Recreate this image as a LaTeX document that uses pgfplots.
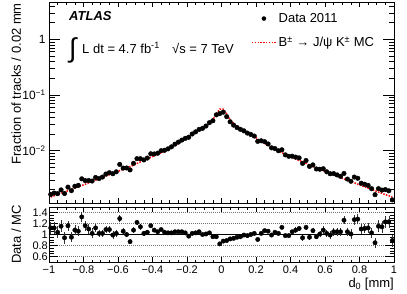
\documentclass[border=0pt]{standalone}
\usepackage{fontspec}
\setmainfont{Liberation Sans}
\usepackage{pgfplots}
\pgfplotsset{compat=1.18}
\usepackage{pgfplotstable}

\pgfplotstableread{
x mc data r re
-0.99 0.00147 0.001646 1.12 0.11
-0.97 0.00155 0.001736 1.12 0.11
-0.95 0.00163 0.001695 1.04 0.11
-0.93 0.00172 0.001978 1.15 0.11
-0.91 0.00181 0.001701 0.94 0.11
-0.89 0.00191 0.002216 1.16 0.09
-0.87 0.00202 0.001919 0.95 0.09
-0.85 0.00213 0.002300 1.08 0.09
-0.83 0.00225 0.002385 1.06 0.09
-0.81 0.00237 0.003128 1.32 0.09
-0.79 0.0025 0.0029 1.16 0.09
-0.77 0.00265 0.002915 1.10 0.09
-0.75 0.0028 0.002856 1.02 0.09
-0.73 0.00295 0.003304 1.12 0.07
-0.71 0.0031 0.003162 1.02 0.07
-0.69 0.0033 0.003366 1.02 0.07
-0.67 0.0035 0.003815 1.09 0.07
-0.65 0.0037 0.004033 1.09 0.07
-0.63 0.0039 0.003861 0.99 0.07
-0.61 0.0041 0.004182 1.02 0.07
-0.59 0.0044 0.005676 1.29 0.07
-0.57 0.0046 0.004876 1.06 0.05
-0.55 0.0049 0.0049 1.00 0.05
-0.53 0.0052 0.004524 0.87 0.05
-0.51 0.0055 0.00594 1.08 0.05
-0.49 0.0059 0.007198 1.22 0.05
-0.47 0.0063 0.007182 1.14 0.05
-0.45 0.0067 0.006834 1.02 0.05
-0.43 0.0071 0.007384 1.04 0.05
-0.41 0.0076 0.008816 1.16 0.03
-0.39 0.0081 0.008748 1.08 0.03
-0.37 0.0086 0.00903 1.05 0.03
-0.35 0.0092 0.010028 1.09 0.03
-0.33 0.0098 0.010192 1.04 0.03
-0.31 0.0105 0.010815 1.03 0.03
-0.29 0.0114 0.011742 1.03 0.03
-0.27 0.0125 0.013125 1.05 0.03
-0.25 0.0136 0.01428 1.05 0.02
-0.23 0.0148 0.01554 1.05 0.02
-0.21 0.0162 0.016686 1.03 0.02
-0.19 0.0180 0.01746 0.97 0.02
-0.17 0.0196 0.019992 1.02 0.02
-0.15 0.0212 0.021836 1.03 0.02
-0.13 0.0230 0.02415 1.05 0.02
-0.11 0.0252 0.0252 1.00 0.015
-0.09 0.0275 0.027775 1.01 0.015
-0.07 0.031 0.03193 1.03 0.015
-0.05 0.036 0.03456 0.96 0.015
-0.03 0.046 0.04416 0.96 0.015
-0.01 0.056 0.04648 0.83 0.015
0.01 0.056 0.04928 0.88 0.015
0.03 0.046 0.04094 0.89 0.015
0.05 0.036 0.03312 0.92 0.015
0.07 0.031 0.02883 0.93 0.015
0.09 0.0275 0.026125 0.95 0.015
0.11 0.0252 0.024192 0.96 0.015
0.13 0.0230 0.02277 0.99 0.02
0.15 0.0212 0.020776 0.98 0.02
0.17 0.0196 0.0196 1.00 0.02
0.19 0.0180 0.01836 1.02 0.02
0.21 0.0162 0.014742 0.91 0.02
0.23 0.0148 0.015096 1.02 0.02
0.25 0.0136 0.014552 1.07 0.02
0.27 0.0125 0.01325 1.06 0.03
0.29 0.0114 0.011286 0.99 0.03
0.31 0.0105 0.01092 1.04 0.03
0.33 0.0098 0.009996 1.02 0.03
0.35 0.0092 0.010396 1.13 0.03
0.37 0.0086 0.008428 0.98 0.03
0.39 0.0081 0.007938 0.98 0.03
0.41 0.0076 0.00798 1.05 0.03
0.43 0.0071 0.007668 1.08 0.05
0.45 0.0067 0.007437 1.11 0.05
0.47 0.0063 0.005922 0.94 0.05
0.49 0.0059 0.006667 1.13 0.05
0.51 0.0055 0.005225 0.95 0.05
0.53 0.0052 0.005564 1.07 0.05
0.55 0.0049 0.004704 0.96 0.05
0.57 0.0046 0.004646 1.01 0.05
0.59 0.0044 0.004752 1.08 0.07
0.61 0.0041 0.004182 1.02 0.07
0.63 0.0039 0.003861 0.99 0.07
0.65 0.0037 0.003885 1.05 0.07
0.67 0.0035 0.003675 1.05 0.07
0.69 0.0033 0.003465 1.05 0.07
0.71 0.0031 0.003906 1.26 0.07
0.73 0.00295 0.003098 1.05 0.07
0.75 0.0028 0.002828 1.01 0.09
0.77 0.00265 0.003366 1.27 0.09
0.79 0.0025 0.0032 1.28 0.09
0.81 0.00237 0.002607 1.10 0.09
0.83 0.00225 0.002498 1.11 0.09
0.85 0.00213 0.002386 1.12 0.09
0.87 0.00202 0.002081 1.03 0.09
0.89 0.00191 0.001624 0.85 0.09
0.91 0.00181 0.002082 1.15 0.11
0.93 0.00172 0.001961 1.14 0.11
0.95 0.00163 0.002005 1.23 0.11
0.97 0.00155 0.001907 1.23 0.11
0.99 0.00147 0.001308 0.89 0.11
}\tbl

\pgfplotsset{
  rootstyle/.style={
    scale only axis, width=345pt, xmin=-1, xmax=1,
    tick align=inside, tick pos=both,
    axis line style={line width=0.8pt},
    tick style={black, line width=0.6pt},
    /pgf/number format/assume math mode=true,
  }
}

\begin{document}
\begin{tikzpicture}[x=1pt,y=1pt]
\useasboundingbox (0,0) rectangle (407,293);
\begin{axis}[rootstyle,
  at={(49pt,90pt)}, anchor=south west, height=201pt,
  ymode=log, ymin=1.15e-3, ymax=4.7,
  xtick={-1,-0.8,-0.6,-0.4,-0.2,0,0.2,0.4,0.6,0.8,1}, xticklabels={},
  minor x tick num=3,
  ytick={0.01,0.1,1},
  yticklabels={10\textsuperscript{−2},10\textsuperscript{−1},1},
  minor ytick={0.002,0.003,0.004,0.005,0.006,0.007,0.008,0.009,0.02,0.03,0.04,0.05,0.06,0.07,0.08,0.09,0.2,0.3,0.4,0.5,0.6,0.7,0.8,0.9,2,3,4},
  xtick style={/pgfplots/major tick length=5.5pt,/pgfplots/minor tick length=3pt},
  ytick style={/pgfplots/major tick length=11pt,/pgfplots/minor tick length=5.5pt},
  yticklabel style={font=\fontsize{12}{14}\selectfont},
  ylabel={Fraction of tracks / 0.02 mm},
  ylabel style={font=\fontsize{13}{15}\selectfont, at={(axis description cs:-0.0812,0.995)}, anchor=base east, inner sep=0pt},
  legend style={at={(axis description cs:0.5855,0.955)}, anchor=north west, draw=none, fill=none,
    font=\fontsize{13}{15}\selectfont, row sep=9pt, inner sep=0pt},
  legend cell align=left,
]
\addlegendimage{legend image code/.code={\path[draw=none, fill=black] (12pt,0pt) circle (2.3pt); \path[draw=none, fill=none] (0pt,-1pt) rectangle (24pt,1pt);}}
\addlegendentry{Data 2011}
\addlegendimage{legend image code/.code={\path[draw=red, fill=none, line width=1.5pt, dash pattern=on 1.5pt off 1.3pt] (0pt,0pt) -- (24pt,0pt);}}
\addlegendentry{B\textsuperscript{±} → J/ψ K\textsuperscript{±} MC}
\addplot[draw=red, line width=1.5pt, dash pattern=on 1.5pt off 1.3pt, forget plot] table[x=x, y=mc] {\tbl};
\addplot[only marks, mark=*, mark size=2.3pt, black, forget plot] table[x=x, y=data] {\tbl};
\node[anchor=base west, font=\fontsize{13}{15}\selectfont\bfseries\itshape, inner sep=0pt] at (axis description cs:0.058,0.907) {ATLAS};
\node[anchor=base west, font=\fontsize{27}{29}\selectfont, inner sep=0pt] at (axis description cs:0.058,0.722) {∫};
\node[anchor=base west, font=\fontsize{13}{15}\selectfont, inner sep=0pt] at (axis description cs:0.0957,0.746) {L dt = 4.7 fb\textsuperscript{-1}};
\node[anchor=base west, font=\fontsize{13}{15}\selectfont, inner sep=0pt] at (axis description cs:0.3565,0.746) {√s = 7 TeV};
\end{axis}
\begin{axis}[rootstyle,
  at={(49pt,31pt)}, anchor=south west, height=55pt,
  ymin=0.5, ymax=1.5,
  xtick={-1,-0.8,-0.6,-0.4,-0.2,0,0.2,0.4,0.6,0.8,1},
  xticklabels={−1,−0.8,−0.6,−0.4,−0.2,0,0.2,0.4,0.6,0.8,1},
  minor x tick num=3,
  ytick={0.6,0.8,1,1.2,1.4}, yticklabels={0.6,0.8,1,1.2,1.4},
  minor y tick num=3,
  xtick style={/pgfplots/major tick length=5pt,/pgfplots/minor tick length=2.5pt},
  ytick style={/pgfplots/major tick length=9pt,/pgfplots/minor tick length=4.5pt},
  xticklabel style={font=\fontsize{11}{13}\selectfont},
  yticklabel style={font=\fontsize{11}{13}\selectfont, inner sep=1pt},
  ymajorgrids, major grid style={black!55, line width=0.6pt, dash pattern=on 0.7pt off 1.3pt},
  xlabel={d\textsubscript{0} [mm]},
  xlabel style={font=\fontsize{13}{15}\selectfont, at={(axis description cs:1,-0.4545)}, anchor=base east, inner sep=0pt},
  ylabel={Data / MC},
  ylabel style={font=\fontsize{13}{15}\selectfont, at={(axis description cs:-0.0812,0.5)}, anchor=base, inner sep=0pt},
]
\addplot[black, line width=1.2pt, forget plot] coordinates {(-1,1) (1,1)};
\addplot[only marks, mark=*, mark size=2.2pt, black,
  error bars/.cd, y dir=both, y explicit, error mark=none,
  error bar style={line width=0.6pt, black!80}] table[x=x, y=r, y error=re] {\tbl};
\end{axis}
\end{tikzpicture}
\end{document}
